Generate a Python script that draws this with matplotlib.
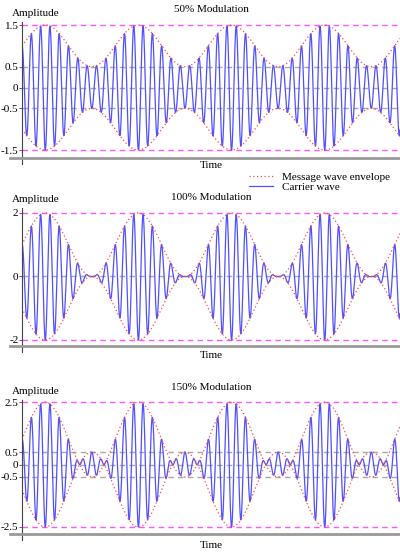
import numpy as np
import matplotlib
matplotlib.use('Agg')
import matplotlib.pyplot as plt
from matplotlib.lines import Line2D

plt.rcParams['font.family'] = ['Liberation Serif', 'DejaVu Serif']
plt.rcParams['font.size'] = 8

# modulation settings
titles = ['50% Modulation', '100% Modulation', '150% Modulation']
mod_index = [0.5, 1.0, 1.5]
carrier_ratio = 10          # carrier cycles per message cycle
t_end = 25.5                # message phase at the right edge (rad)

ticks = [[1.5, 0.5, 0, -0.5, -1.5],
         [2, 0, -2],
         [2.5, 0.5, 0, -0.5, -2.5]]
tick_labels = [['1.5', '0.5', '0', '-0.5', '-1.5'],
               ['2', '0', '-2'],
               ['2.5', '0.5', '0', '-0.5', '-2.5']]
peak_levels = [[1.5, -1.5], [2, -2], [2.5, -2.5]]
gray_levels = [[0.5, 0, -0.5], [0], [0.5, 0, -0.5]]
ylims = [(-1.68, 1.58), (-2.18, 2.16), (-2.78, 2.6)]

W, H = 400, 553
# pixel layout of the three panels: (top, bottom, title_y, time_y)
panels_px = [(21.7, 157.5, 10, 166),
             (207.9, 345.7, 198, 355),
             (399.5, 534.0, 387, 545)]
left_px = 22

fig = plt.figure(figsize=(W / 100, H / 100), dpi=100)

t = np.linspace(0, t_end, 6000)

for i in range(3):
    top, bot, ty, tt = panels_px[i]
    ax = fig.add_axes([left_px / W, 1 - bot / H, 1 - left_px / W, (bot - top) / H])
    m = mod_index[i]
    env = 1 + m * np.sin(t)
    carrier = env * np.cos(carrier_ratio * t)

    for lv in peak_levels[i]:
        ax.axhline(lv, color='#ff55ff', lw=1.0, dashes=(4, 3), zorder=1)
    for lv in gray_levels[i]:
        ax.axhline(lv, color='#a8a8a8', lw=1.0, dashes=(4, 3), zorder=1)

    ax.plot(t, carrier, color='#5050ff', lw=0.9, zorder=3)
    ax.plot(t, env, color='#ff4848', lw=0.9, ls=(0, (1, 2)), zorder=4)
    ax.plot(t, -env, color='#ff4848', lw=0.9, ls=(0, (1, 2)), zorder=4)

    ax.set_xlim(0, t_end)
    ax.set_ylim(*ylims[i])
    for s in ax.spines.values():
        s.set_visible(False)
    ax.set_xticks([])
    ax.set_yticks(ticks[i])
    ax.set_yticklabels(tick_labels[i])
    ax.tick_params(axis='y', direction='out', length=2, width=0.6,
                   color='#444444', pad=0.5, labelsize=8)

    ext = 6 / (bot - top)
    ax.plot([0, 0], [-ext, 1], transform=ax.transAxes, color='#444444',
            lw=0.8, clip_on=False, zorder=5)
    ax.plot([-12 / (W - left_px), 1], [0, 0], transform=ax.transAxes,
            color='#999999', lw=2.0, clip_on=False, zorder=5)

    fig.text(211 / W, 1 - ty / H, titles[i], ha='center', va='center')
    fig.text(211 / W, 1 - tt / H, 'Time', ha='center', va='center')
    fig.text(12 / W, 1 - (top - 8) / H, 'Amplitude', ha='left', va='center')

handles = [Line2D([], [], color='#ff4848', lw=0.9, ls=(0, (1, 2))),
           Line2D([], [], color='#5050ff', lw=0.9)]
fig.legend(handles, ['Message wave envelope', 'Carrier wave'],
           loc='upper left', bbox_to_anchor=(243 / W, 1 - 167 / H),
           frameon=False, fontsize=8, handlelength=2.2, labelspacing=0,
           borderpad=0, handletextpad=0.8)

fig.savefig('out.png', dpi=100)
